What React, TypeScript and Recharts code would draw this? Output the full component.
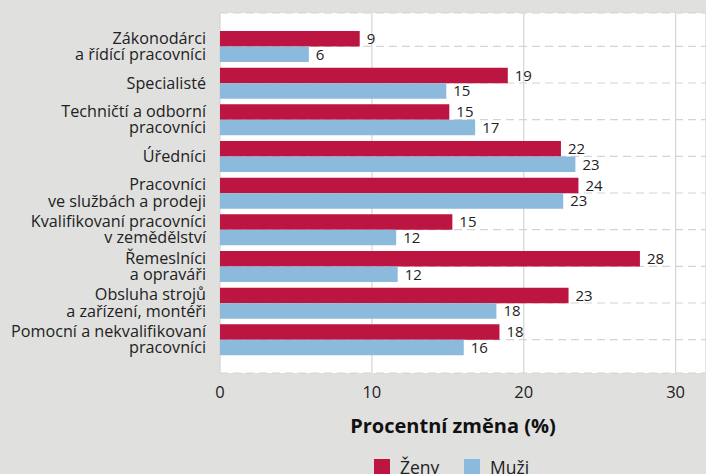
import React from "react"
import { BarChart, Bar, XAxis, YAxis, CartesianGrid, Legend, LabelList } from "recharts"

const categories = [
	"Zákonodárci\na řídící pracovníci",
	"Specialisté",
	"Techničtí a odborní\npracovníci",
	"Úředníci",
	"Pracovníci\nve službách a prodeji",
	"Kvalifikovaní pracovníci\nv zemědělství",
	"Řemeslníci\na opraváři",
	"Obsluha strojů\na zařízení, montéři",
	"Pomocní a nekvalifikovaní\npracovníci",
]
const zeny = [9.2, 18.95, 15.1, 22.45, 23.6, 15.3, 27.65, 22.95, 18.4]
const muzi = [5.85, 14.9, 16.8, 23.4, 22.6, 11.6, 11.7, 18.2, 16.05]
const xTicks = [0, 10, 20, 30]
const seriesNames = { zeny: "Ženy", muzi: "Muži" }

const RED = "#bd1541"
const BLUE = "#8cbadc"
const TEXT = "#222222"
const FONT = "'Open Sans', sans-serif"

const data = categories.map((name, i) => ({ name, zeny: zeny[i], muzi: muzi[i] }))

const CategoryTick = (props: any) => {
	const { x, y, payload } = props
	const lines = String(payload.value).split("\n")
	const lh = 16.3
	return (
		<text x={x} y={y} textAnchor="end" fill={TEXT} fontSize={16.2} fontFamily={FONT}>
			{lines.map((line, i) => (
				<tspan key={i} x={x} dy={i === 0 ? -((lines.length - 1) / 2) * lh + 5.6 : lh}>
					{line}
				</tspan>
			))}
		</text>
	)
}

const AxisTitle = (props: any) => {
	const { viewBox } = props
	return (
		<text
			x={viewBox.x + viewBox.width / 2 - 10}
			y={viewBox.y + 60}
			textAnchor="middle"
			fill="#111"
			fontSize={20}
			fontWeight={700}
			fontFamily={FONT}
		>
			Procentní změna (%)
		</text>
	)
}

const LegendContent = () => (
	<div style={{ display: "flex", fontFamily: FONT, fontSize: 17.5, color: TEXT }}>
		{[
			{ label: seriesNames.zeny, color: RED },
			{ label: seriesNames.muzi, color: BLUE },
		].map((item) => (
			<div key={item.label} style={{ display: "flex", alignItems: "center", width: 90, height: 24 }}>
				<span style={{ display: "inline-block", width: 16, height: 16, background: item.color, marginRight: 10 }} />
				<span>{item.label}</span>
			</div>
		))}
	</div>
)

const App: React.FC = () => {
	return (
		<div style={{ position: "absolute", top: 0, left: 0, width: 706, height: 474, background: "#e0e0df", overflow: "hidden" }}>
			<BarChart
				width={706}
				height={474}
				data={data}
				layout="vertical"
				margin={{ top: 13, right: 0, left: 0, bottom: 0 }}
				barGap={0}
				barSize={15.5}
			>
				<CartesianGrid horizontal={false} fill="#ffffff" stroke="#d4d4d4" strokeWidth={1.2} />
				<CartesianGrid vertical={false} stroke="#d4d4d4" strokeDasharray="8 5" strokeWidth={1.2} />
				<XAxis
					type="number"
					domain={[0, 32]}
					ticks={xTicks}
					axisLine={false}
					tickLine={false}
					tickSize={0}
					tickMargin={13}
					height={101}
					tick={{ fill: TEXT, fontSize: 16.5, fontFamily: FONT }}
					label={<AxisTitle />}
				/>
				<YAxis
					type="category"
					dataKey="name"
					width={220}
					axisLine={false}
					tickLine={false}
					tickSize={0}
					tickMargin={14}
					padding={{ top: 15, bottom: 15 }}
					interval={0}
					tick={<CategoryTick />}
				/>
				<Legend
					layout="horizontal"
					verticalAlign="middle"
					align="center"
					wrapperStyle={{ top: 455, left: 374, width: 200 }}
					content={<LegendContent />}
				/>
				<Bar dataKey="zeny" name={seriesNames.zeny} fill={RED} isAnimationActive={false}>
					<LabelList
						dataKey="zeny"
						position="right"
						offset={7}
						formatter={(v: any) => Math.round(Number(v))}
						style={{ fill: TEXT, fontSize: 15, fontFamily: FONT }}
					/>
				</Bar>
				<Bar dataKey="muzi" name={seriesNames.muzi} fill={BLUE} isAnimationActive={false}>
					<LabelList
						dataKey="muzi"
						position="right"
						offset={7}
						formatter={(v: any) => Math.round(Number(v))}
						style={{ fill: TEXT, fontSize: 15, fontFamily: FONT }}
					/>
				</Bar>
			</BarChart>
		</div>
	)
}

export default App
